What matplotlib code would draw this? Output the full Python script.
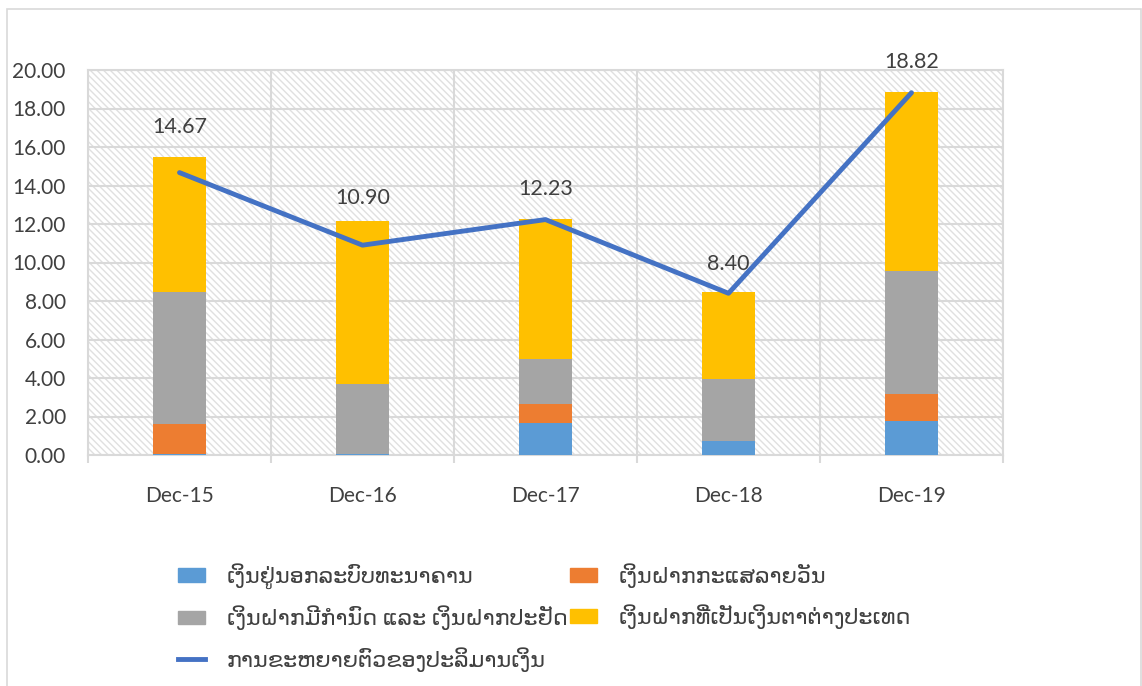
import numpy as np
import matplotlib.pyplot as plt
from matplotlib.patches import Rectangle, Patch
from matplotlib.lines import Line2D

# ------------------------------------------------------------
# Data
# ------------------------------------------------------------
periods = ["Dec-15", "Dec-16", "Dec-17", "Dec-18", "Dec-19"]
outside_bank = [0.05, 0.05, 1.68, 0.74, 1.77]
current_dep = [1.56, 0.00, 0.95, 0.00, 1.40]
fixed_saving = [6.86, 3.64, 2.34, 3.19, 6.37]
foreign_dep = [7.01, 8.47, 7.29, 4.54, 9.32]
growth = [14.67, 10.90, 12.23, 8.40, 18.82]

names = [
    "ເງິນຢູ່ນອກລະບົບທະນາຄານ",
    "ເງິນຝາກກະແສລາຍວັນ",
    "ເງິນຝາກມີກຳນົດ ແລະ ເງິນຝາກປະຢັດ",
    "ເງິນຝາກທີ່ເປັນເງິນຕາຕ່າງປະເທດ",
    "ການຂະຫຍາຍຕົວຂອງປະລິມານເງິນ",
]
colors = ["#5B9BD5", "#ED7D31", "#A5A5A5", "#FFC000"]
line_color = "#4472C4"
grid_color = "#D9D9D9"
text_color = "#404040"

# label offsets (points) above the line points
label_dy = [33, 34, 22, 21, 22]

plt.rcParams["font.family"] = ["Lato", "DejaVu Sans"]
plt.rcParams["hatch.linewidth"] = 1.0

fig = plt.figure(figsize=(11.42, 6.86), dpi=100)
ax = fig.add_axes([88 / 1142, 1 - 455 / 686, 915 / 1142, 385 / 686])

# figure border
fig.add_artist(Rectangle((7 / 1142, -0.01), 1134 / 1142, 1 - 9 / 686 + 0.01,
                         transform=fig.transFigure, fill=False,
                         edgecolor=grid_color, lw=1.2))

# hatched plot background
ax.add_patch(Rectangle((0, 0), 1, 1, transform=ax.transAxes,
                       facecolor="white", edgecolor="#E0E0E0",
                       hatch="\\\\\\\\\\", lw=0, zorder=0))

x = np.arange(len(periods))
width = 0.29
bottom = np.zeros(len(periods))
for vals, col in zip([outside_bank, current_dep, fixed_saving, foreign_dep], colors):
    ax.bar(x, vals, width, bottom=bottom, color=col, zorder=3)
    bottom += np.array(vals)

ax.plot(x, growth, color=line_color, lw=3.5, zorder=4, solid_capstyle="round")
for xi, g, dy in zip(x, growth, label_dy):
    ax.annotate(f"{g:.2f}", (xi, g), xytext=(0, dy), textcoords="offset points",
                ha="center", va="center", fontsize=15.5, color=text_color, zorder=5)

ax.set_xlim(-0.5, len(periods) - 0.5)
ax.set_ylim(0, 20)
ax.set_yticks(np.arange(0, 21, 2))
ax.set_yticklabels([f"{v:.2f}" for v in np.arange(0, 21, 2)])
ax.set_xticks(x)
ax.set_xticklabels(periods)
ax.set_xticks(np.arange(-0.5, len(periods)), minor=True)

ax.grid(True, axis="y", color=grid_color, lw=1.5, zorder=1)
ax.grid(True, axis="x", which="minor", color=grid_color, lw=1.5, zorder=1)
ax.set_axisbelow(True)

for s in ax.spines.values():
    s.set_color(grid_color)
    s.set_linewidth(1.5)

ax.tick_params(axis="y", length=0, pad=16, labelsize=15, labelcolor=text_color)
ax.tick_params(axis="x", which="major", length=0, pad=22, labelsize=15,
               labelcolor=text_color)
ax.tick_params(axis="x", which="minor", length=6, width=1.5, color=grid_color,
               direction="out")

handles = [
    Patch(color=colors[0], label=names[0]),
    Patch(color=colors[2], label=names[2]),
    Line2D([0], [0], color=line_color, lw=3.5, label=names[4]),
    Patch(color=colors[1], label=names[1]),
    Patch(color=colors[3], label=names[3]),
]
fig.legend(handles=handles, ncol=2, loc="upper left",
           bbox_to_anchor=(178 / 1142, 1 - 563 / 686), frameon=False,
           fontsize=16, labelcolor=text_color, handlelength=1.2,
           handleheight=0.55, handletextpad=1.0, columnspacing=0.1,
           labelspacing=0.75, borderpad=0, borderaxespad=0)

fig.savefig("out.png", dpi=100)
